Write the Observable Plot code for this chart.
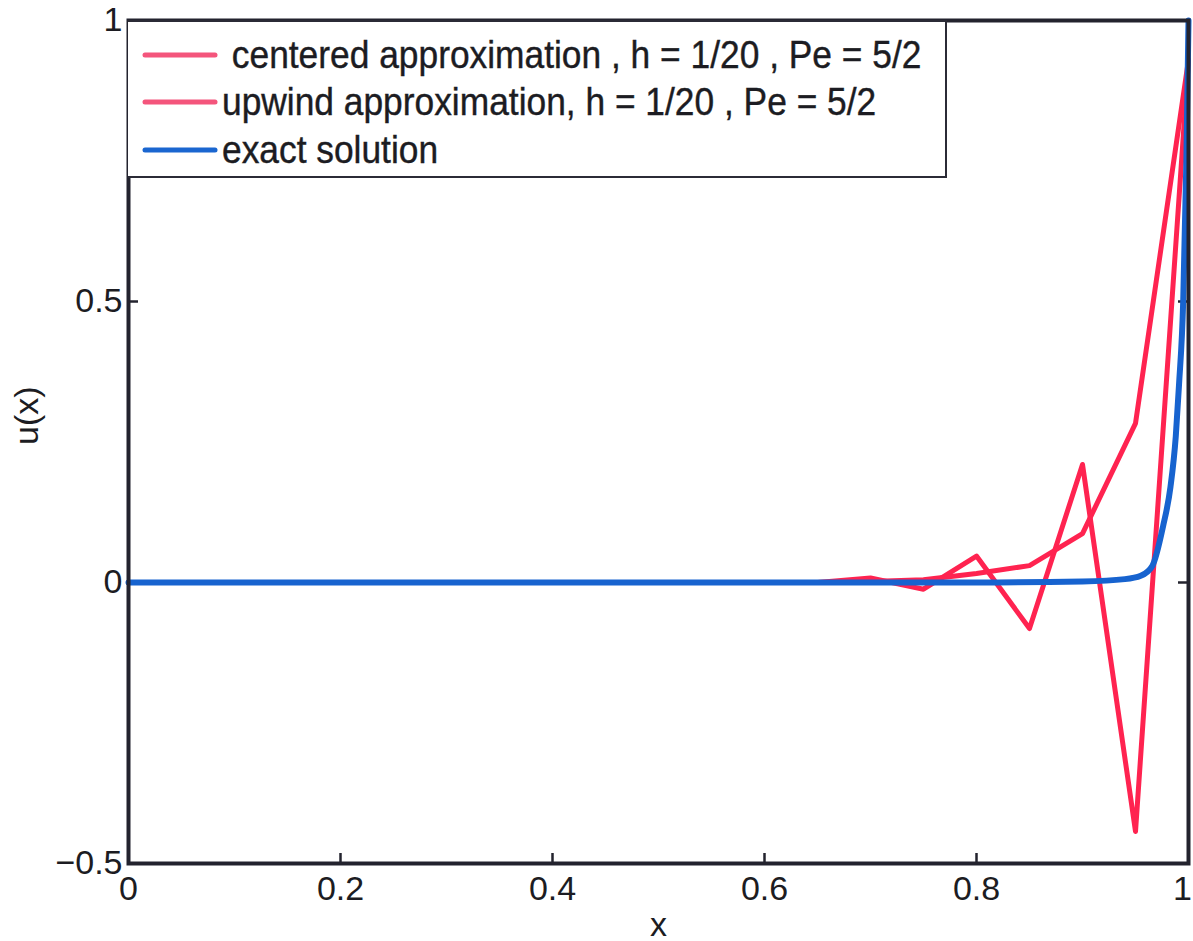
<!DOCTYPE html>
<html>
<head>
<meta charset="utf-8">
<script src="https://cdn.jsdelivr.net/npm/d3@7"></script>
<script src="https://cdn.jsdelivr.net/npm/@observablehq/plot@0.6"></script>
<style>
  body { margin: 0; background: #fff; font-family: "Liberation Sans", Arial, sans-serif; }
  #wrap { position: relative; width: 1193px; height: 941px; }
  .legend {
    position: absolute; left: 128px; top: 20px; width: 819px; height: 158px;
    box-sizing: border-box; border: 2px solid #2b2b36; border-left-width: 0;
    background: #fff; padding-top: 9px;
  }
  .legend .row { display: flex; align-items: center; height: 47.5px; color: #1c1c22; white-space: nowrap; }
  .legend svg { margin-left: 14px; margin-right: 4px; flex: none; }
  .legend span {
    font-size: 38px; display: inline-block; transform: scaleX(0.93); transform-origin: left center;
    line-height: 1; -webkit-text-stroke: 0.4px #1c1c22;
  }
</style>
</head>
<body>
<div id="wrap"></div>
<script>
// Grid nodes, h = 1/20
const nodes = [0, 0.05, 0.1, 0.15, 0.2, 0.25, 0.3, 0.35, 0.4, 0.45, 0.5,
               0.55, 0.6, 0.65, 0.7, 0.75, 0.8, 0.85, 0.9, 0.95, 1];

// Centered finite differences (oscillating)
const centered = [0, 0, 0, 0, 0, 0, 0, 0, 0, 0, 0,
                  0, 0, 0, 0.008, -0.012, 0.047, -0.082, 0.21, -0.443, 0.93];

// Upwind finite differences
const upwind = [0, 0, 0, 0, 0, 0, 0, 0, 0, 0, 0,
                0, 0, 0, 0.002, 0.005, 0.016, 0.03, 0.087, 0.283, 0.93];

// Exact solution, sampled densely near the boundary layer
const exactX = [0, 0.2, 0.4, 0.6, 0.8, 0.9, 0.94, 0.955, 0.966, 0.976, 0.983, 0.988, 0.991, 0.995, 0.998, 1];
const exactU = [0, 0, 0, 0, 0, 0.002, 0.006, 0.012, 0.03, 0.1, 0.17, 0.26, 0.35, 0.5, 0.75, 1];

const xTicks = [0, 0.2, 0.4, 0.6, 0.8, 1];
const yTicks = [-0.5, 0, 0.5, 1];

const seriesNames = [
  "\u00a0centered approximation , h = 1/20 , Pe = 5/2",
  "upwind approximation, h = 1/20 , Pe = 5/2",
  "exact solution"
];
const seriesColors = ["#ff2350", "#ff2350", "#1763cf"];
const legendColors = ["#f4557c", "#f4557c", "#1a66d0"];

const table = (xs, ys) => xs.map((x, i) => ({x, u: ys[i]}));
const centeredData = table(nodes, centered);
const upwindData = table(nodes, upwind);
const exactData = table(exactX, exactU);

const yMin = d3.min(yTicks), yMax = d3.max(yTicks);
const xMin = d3.min(xTicks), xMax = d3.max(xTicks);
const axisColor = "#23232e";
const tickLen = 10;
const fmtX = d => String(d);
const fmtY = d => (d < 0 ? "\u2212" + Math.abs(d) : String(d));

const chart = Plot.plot({
  width: 1193,
  height: 941,
  marginLeft: 128,
  marginRight: 5,
  marginTop: 20,
  marginBottom: 78,
  style: { fontFamily: "'Liberation Sans', Arial, sans-serif", fontSize: "34px", color: "#1c1c22", background: "#fff" },
  x: { domain: [xMin, xMax] },
  y: { domain: [yMin, yMax] },
  marks: [
    // tick labels; the last x label is nudged left so it stays inside the page
    Plot.axisX({ ticks: xTicks.slice(0, -1), tickSize: 0, tickPadding: 12, label: null, fontSize: 34, tickFormat: fmtX }),
    Plot.axisX({ ticks: xTicks.slice(-1), tickSize: 0, tickPadding: 12, label: null, fontSize: 34, tickFormat: fmtX, dx: -6 }),
    Plot.axisY({ ticks: yTicks, tickSize: 0, tickPadding: 6, label: null, fontSize: 34, tickFormat: fmtY }),
    // inward tick marks
    Plot.ruleX(xTicks, { x: d => d, y1: yMin, y2: yMin, insetTop: -tickLen, stroke: axisColor, strokeWidth: 2.5 }),
    Plot.ruleY(yTicks, { y: d => d, x1: xMin, x2: xMin, insetRight: -tickLen, stroke: axisColor, strokeWidth: 2.5 }),
    Plot.ruleY(yTicks, { y: d => d, x1: xMax, x2: xMax, insetLeft: -tickLen, stroke: axisColor, strokeWidth: 2.5 }),
    Plot.line(centeredData, { x: "x", y: "u", stroke: seriesColors[0], strokeWidth: 5 }),
    Plot.line(upwindData, { x: "x", y: "u", stroke: seriesColors[1], strokeWidth: 5 }),
    Plot.line(exactData, { x: "x", y: "u", stroke: seriesColors[2], strokeWidth: 6, curve: "monotone-x" }),
    Plot.frame({ stroke: axisColor, strokeWidth: 4 }),
    Plot.text(["u(x)"], { frameAnchor: "left", dx: -101, dy: 3, rotate: -90, fontSize: 34 }),
    Plot.text(["x"], { frameAnchor: "bottom", dy: 72, fontSize: 34 })
  ]
});

const wrap = document.getElementById("wrap");
wrap.appendChild(chart);

// Legend box in the upper-left corner of the axes
const legend = document.createElement("div");
legend.className = "legend";
seriesNames.forEach((name, i) => {
  const row = document.createElement("div");
  row.className = "row";
  row.innerHTML = `<svg width="76" height="10"><line x1="3" y1="5" x2="73" y2="5" stroke="${legendColors[i]}" stroke-width="5" stroke-linecap="round"/></svg><span>${name}</span>`;
  legend.appendChild(row);
});
wrap.appendChild(legend);
</script>
</body>
</html>
